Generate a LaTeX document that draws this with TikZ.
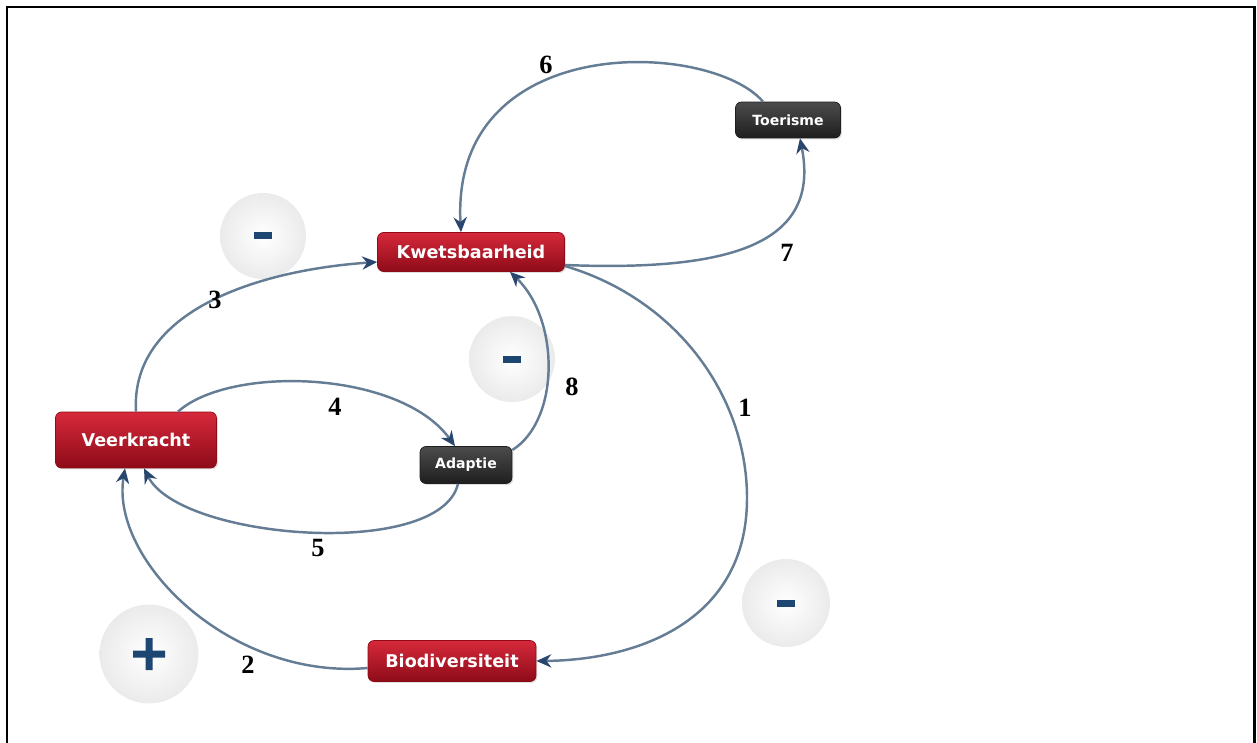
\documentclass[tikz,border=0pt]{standalone}
\usepackage{fontspec}
\setmainfont{Liberation Serif}
\newfontfamily\boxfont{DejaVu Sans}
\usetikzlibrary{arrows.meta,shadows}
\definecolor{linkblue}{HTML}{657C95}
\definecolor{tipblue}{HTML}{28466E}
\definecolor{signblue}{HTML}{1E4672}
\definecolor{redtop}{HTML}{D6293B}
\definecolor{redmid}{HTML}{BE1628}
\definecolor{redbot}{HTML}{8E0B18}
\definecolor{darktop}{HTML}{4C4C4C}
\definecolor{darkbot}{HTML}{1E1E1E}

\begin{document}
\begin{tikzpicture}[x=0.02cm,y=-0.02cm,
  redbox/.style={draw=redbot,rounded corners=3.4pt,top color=redtop,middle color=redmid,bottom color=redbot,
    text=white,font=\boxfont\bfseries\fontsize{10}{11}\selectfont,inner sep=0pt,
    drop shadow={shadow xshift=0.8pt,shadow yshift=-0.8pt,opacity=0.25}},
  darkbox/.style={draw=darkbot,rounded corners=3.4pt,top color=darktop,bottom color=darkbot,
    text=white,font=\boxfont\bfseries\fontsize{8}{9}\selectfont,inner sep=0pt,
    drop shadow={shadow xshift=0.8pt,shadow yshift=-0.8pt,opacity=0.25}},
  signball/.style={circle,inner sep=0pt,inner color=white,outer color=black!8},
  link/.style={draw=linkblue,line width=1.4pt,-{Stealth[length=8.5pt,width=7.5pt,color=tipblue]}},
  num/.style={font=\bfseries\fontsize{15}{17}\selectfont}]
\useasboundingbox (0,0) rectangle (1257,743);
\draw[line width=1.7pt] (7,743) -- (7,7) -- (1254,7) -- (1254,743);

\node[signball,minimum size=1.72cm] (min1) at (263,236) {};
\node[signball,minimum size=1.72cm] (min2) at (512,359) {};
\node[signball,minimum size=1.76cm] (min3) at (786,603) {};
\node[signball,minimum size=1.98cm] (plus) at (149,654) {};
\fill[signblue,shift={(min1.center)}] (-9,-3.5) rectangle (9,3.5);
\fill[signblue,shift={(min2.center)}] (-9,-3.5) rectangle (9,3.5);
\fill[signblue,shift={(min3.center)}] (-9,-3.5) rectangle (9,3.5);
\fill[signblue,shift={(plus.center)}] (-16,-3.5) rectangle (16,3.5) (-3.5,-16) rectangle (3.5,16);

\node[redbox,minimum width=3.74cm,minimum height=0.78cm] (kwets) at (471,252) {Kwetsbaarheid};
\node[redbox,minimum width=3.22cm,minimum height=1.12cm] (veer) at (136,440) {Veerkracht};
\node[redbox,minimum width=3.36cm,minimum height=0.82cm] (bio) at (452,661) {Biodiversiteit};
\node[darkbox,minimum width=2.1cm,minimum height=0.72cm] (toer) at (788,120) {Toerisme};
\node[darkbox,minimum width=1.84cm,minimum height=0.74cm] (adap) at (466,465) {Adaptie};

\draw[link] ([xshift=-0.5cm]toer.north) .. controls (710,40) and (450,30) .. ([xshift=-0.2cm]kwets.north);
\draw[link] ([yshift=-0.26cm]kwets.east) .. controls (740,272) and (820,240) .. ([xshift=0.24cm]toer.south);
\draw[link] ([yshift=-0.28cm]kwets.east) .. controls (680,300) and (748,400) .. (747,500)
  .. controls (746,620) and (640,660) .. (bio.east);
\draw[link] (veer.north) .. controls (130,310) and (260,270) .. ([yshift=-0.2cm]kwets.west);
\draw[link] ([xshift=0.84cm]veer.north) .. controls (230,365) and (400,370) .. ([xshift=-0.22cm]adap.north);
\draw[link] ([xshift=-0.16cm]adap.south) .. controls (440,560) and (180,540) .. ([xshift=0.16cm]veer.south);
\draw[link] ([yshift=-0.14cm]bio.west) .. controls (230,680) and (110,560) .. ([xshift=-0.22cm]veer.south);
\draw[link] ([yshift=0.3cm]adap.east) .. controls (560,420) and (560,320) .. ([xshift=0.78cm]kwets.south);

\node[num] (n1) at (745,408) {1};
\node[num] (n2) at (248,665) {2};
\node[num] (n3) at (215,300) {3};
\node[num] (n4) at (335,407) {4};
\node[num] (n5) at (318,548) {5};
\node[num] (n6) at (546,65) {6};
\node[num] (n7) at (787,253) {7};
\node[num] (n8) at (572,387) {8};
\end{tikzpicture}
\end{document}
